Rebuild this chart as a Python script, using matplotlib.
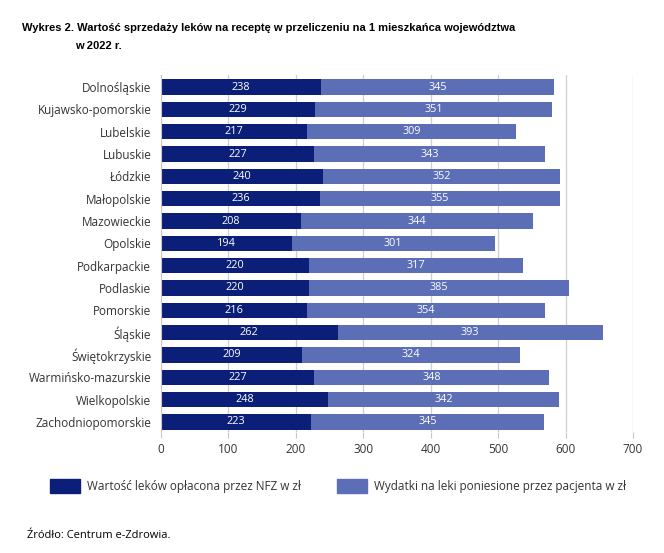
import numpy as np
import matplotlib.pyplot as plt
from matplotlib.patches import Patch

regions = ['Dolnośląskie', 'Kujawsko-pomorskie', 'Lubelskie', 'Lubuskie', 'Łódzkie',
           'Małopolskie', 'Mazowieckie', 'Opolskie', 'Podkarpackie', 'Podlaskie',
           'Pomorskie', 'Śląskie', 'Świętokrzyskie', 'Warmińsko-mazurskie',
           'Wielkopolskie', 'Zachodniopomorskie']
nfz = [238, 229, 217, 227, 240, 236, 208, 194, 220, 220, 216, 262, 209, 227, 248, 223]
patient = [345, 351, 309, 343, 352, 355, 344, 301, 317, 385, 354, 393, 324, 348, 342, 345]
xticks = [0, 100, 200, 300, 400, 500, 600, 700]

dark = '#0b1f78'
light = '#5c6eb6'

plt.rcParams['font.family'] = ['Open Sans', 'DejaVu Sans']

fig = plt.figure(figsize=(6.64, 5.53), dpi=100)
ax = fig.add_axes([161 / 664, 1 - 432 / 553, 472 / 664, 357 / 553])

y = np.arange(len(regions))
nfz = np.array(nfz)
patient = np.array(patient)
ax.barh(y, nfz, height=0.68, color=dark, zorder=2)
ax.barh(y, patient, left=nfz, height=0.68, color=light, zorder=2)

for i in range(len(regions)):
    ax.text(nfz[i] / 2, y[i], str(nfz[i]), ha='center', va='center',
            color='white', fontsize=7.8, zorder=3)
    ax.text(nfz[i] + patient[i] / 2, y[i], str(patient[i]), ha='center', va='center',
            color='white', fontsize=7.8, zorder=3)

ax.set_xlim(0, 700)
ax.set_ylim(len(regions) - 0.55, -0.54)
ax.set_yticks(y)
ax.set_yticklabels(regions, fontsize=8.5, color='#333333')
ax.set_xticks(xticks)
ax.set_xticklabels([str(t) for t in xticks], fontsize=8.5, color='#333333')
ax.tick_params(axis='y', length=0, pad=7)
ax.tick_params(axis='x', length=4, color='#c8c8c8', pad=4)
ax.grid(axis='x', color='#cfcfcf', linewidth=0.9, zorder=0)
for s in ['top', 'right', 'bottom']:
    ax.spines[s].set_visible(False)
ax.spines['left'].set_color('#c8c8c8')

title_font = ['Liberation Sans', 'DejaVu Sans']
fig.text(22 / 664, 1 - 28 / 553, 'Wykres 2. Wartość sprzedaży leków na receptę w przeliczeniu na 1 mieszkańca województwa',
         fontsize=8.0, fontweight='bold', family=title_font, va='center', ha='left')
fig.text(75 / 664, 1 - 46 / 553, 'w 2022 r.',
         fontsize=8.0, fontweight='bold', family=title_font, va='center', ha='left')

handles = [Patch(color=dark, label='Wartość leków opłacona przez NFZ w zł'),
           Patch(color=light, label='Wydatki na leki poniesione przez pacjenta w zł')]
fig.legend(handles=handles, loc='center', bbox_to_anchor=(338 / 664, 1 - 486 / 553),
           ncol=2, frameon=False, fontsize=8.5, handlelength=2.6, handleheight=1.5,
           handletextpad=0.6, columnspacing=3.0, labelcolor='#333333')

fig.text(27 / 664, 1 - 535 / 553, 'Źródło: Centrum e-Zdrowia.', fontsize=8, va='center', ha='left')

fig.savefig('out.png', dpi=100)
